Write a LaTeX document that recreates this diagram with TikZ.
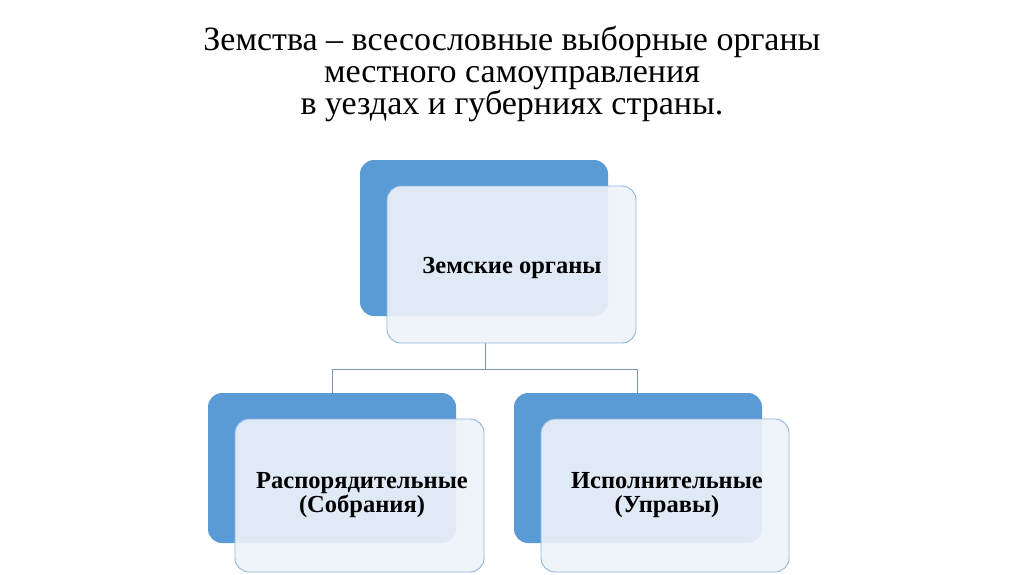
\documentclass[tikz,border=0pt]{standalone}
\usepackage{fontspec}
\setmainfont{Liberation Serif}
\begin{document}
\begin{tikzpicture}[x=1pt,y=-1pt,
  back/.style={fill=blueA,draw=none,rounded corners=14pt},
  front/.style={fill=lightA,fill opacity=0.9,draw=borderA,line width=0.9pt,rounded corners=14pt,text opacity=1},
  lbl/.style={font=\bfseries\fontsize{24.5}{24}\selectfont,align=center},
  conn/.style={draw=connA,line width=0.9pt}]
\definecolor{blueA}{HTML}{5B9BD5}
\definecolor{lightA}{HTML}{EEF3FA}
\definecolor{borderA}{HTML}{8DB6DE}
\definecolor{connA}{HTML}{7C97B4}
\useasboundingbox[fill=white] (0,0) rectangle (1024,574);
\node[font=\fontsize{34}{32}\selectfont,align=center] (title) at (512,74)
 {Земства – всесословные выборные органы\\ местного самоуправления\\ в уездах и губерниях страны.};
% top
\fill[back] (360,160) rectangle (608,316);
\draw[front] (387,186) rectangle (636,343);
\node[lbl] (top) at (512,268) {Земские органы};
\coordinate (topb) at (485,343);
\coordinate (mid) at (485,369);
\coordinate (ml) at (332,369);
\coordinate (mr) at (637,369);
\coordinate (lt) at (332,393);
\coordinate (rt) at (637,393);
\draw[conn] (topb) -- (mid) (ml) -- (mr) (ml) -- (lt) (mr) -- (rt);
% left
\fill[back] (208,393) rectangle (456,543);
\draw[front] (235,419) rectangle (484,572);
\node[lbl] (left) at (362,495) {Распорядительные\\(Собрания)};
% right
\fill[back] (514,393) rectangle (762,543);
\draw[front] (541,419) rectangle (789,572);
\node[lbl] (right) at (667,495) {Исполнительные\\(Управы)};
\end{tikzpicture}
\end{document}
